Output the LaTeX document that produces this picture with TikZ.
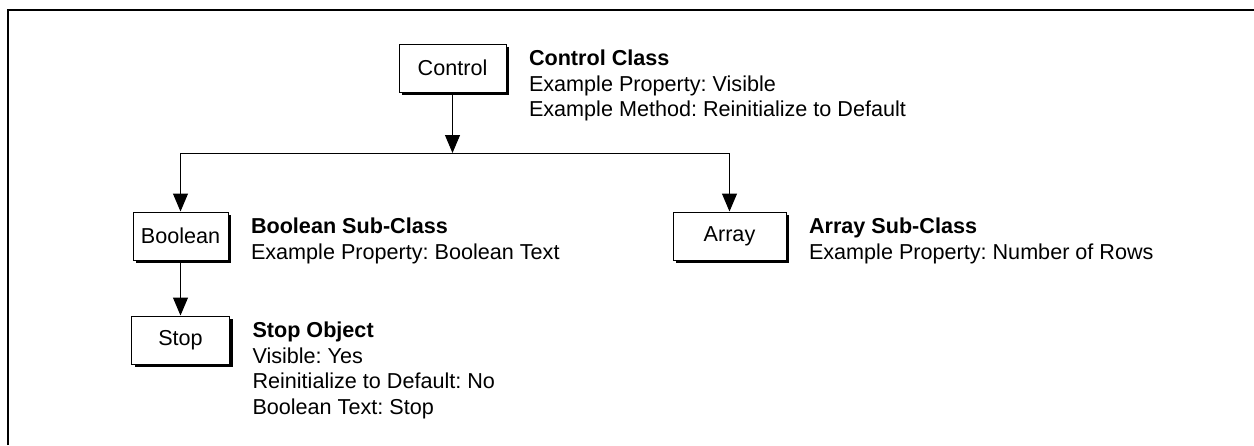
\documentclass[tikz,border=0pt]{standalone}
\usepackage{fontspec}
\setmainfont{Liberation Sans}
\usetikzlibrary{arrows.meta,shadows,positioning}
\frenchspacing

\begin{document}
\begin{tikzpicture}[x=0.5pt, y=-0.5pt, line width=0.5pt, >={Triangle[length=9pt,width=7.5pt]}, font=\fontsize{10.8}{12.75}\selectfont]
   \useasboundingbox (0,0) rectangle (1254,445);
   \draw[line width=0.8pt] (8,445) -- (8,10) -- (1254,10);
   \begin{scope}[every node/.style={draw, fill=white, minimum height=24pt, inner sep=0pt, drop shadow={shadow xshift=1.5pt, shadow yshift=-1.5pt, fill=black, opacity=1}}]
    \node[minimum width=53.5pt] (ctrl) at (452.5,68) {Control};
    \node[minimum width=47.5pt] (bool) at (180.5,236) {Boolean};
    \node[minimum width=49pt] (stop) at (180.5,340) {Stop};
    \node[minimum width=56.5pt] (arr) at (729.5,236) {Array};
   \end{scope}
   \begin{scope}[every node/.style={align=left, inner sep=0pt}]
    \node[below right=3pt and 11pt of ctrl.north east] (ctrltxt) {\textbf{Control Class}\\Example Property: Visible\\Example Method: Reinitialize to Default};
    \node[below right=3pt and 11pt of bool.north east] (booltxt) {\textbf{Boolean Sub-Class}\\Example Property: Boolean Text};
    \node[below right=3pt and 11pt of stop.north east] (stoptxt) {\textbf{Stop Object}\\Visible: Yes\\Reinitialize to Default: No\\Boolean Text: Stop};
    \node[below right=3pt and 11pt of arr.north east] (arrtxt) {\textbf{Array Sub-Class}\\Example Property: Number of Rows};
   \end{scope}
   \coordinate (junc) at (452.5,153);
   \draw[->] (ctrl) -- (junc);
   \draw[->] (arr |- junc) -- (bool |- junc) -- (bool);
   \draw[->] (bool |- junc) -- (arr |- junc) -- (arr);
   \draw[->] (bool) -- (stop);
\end{tikzpicture}
\end{document}
